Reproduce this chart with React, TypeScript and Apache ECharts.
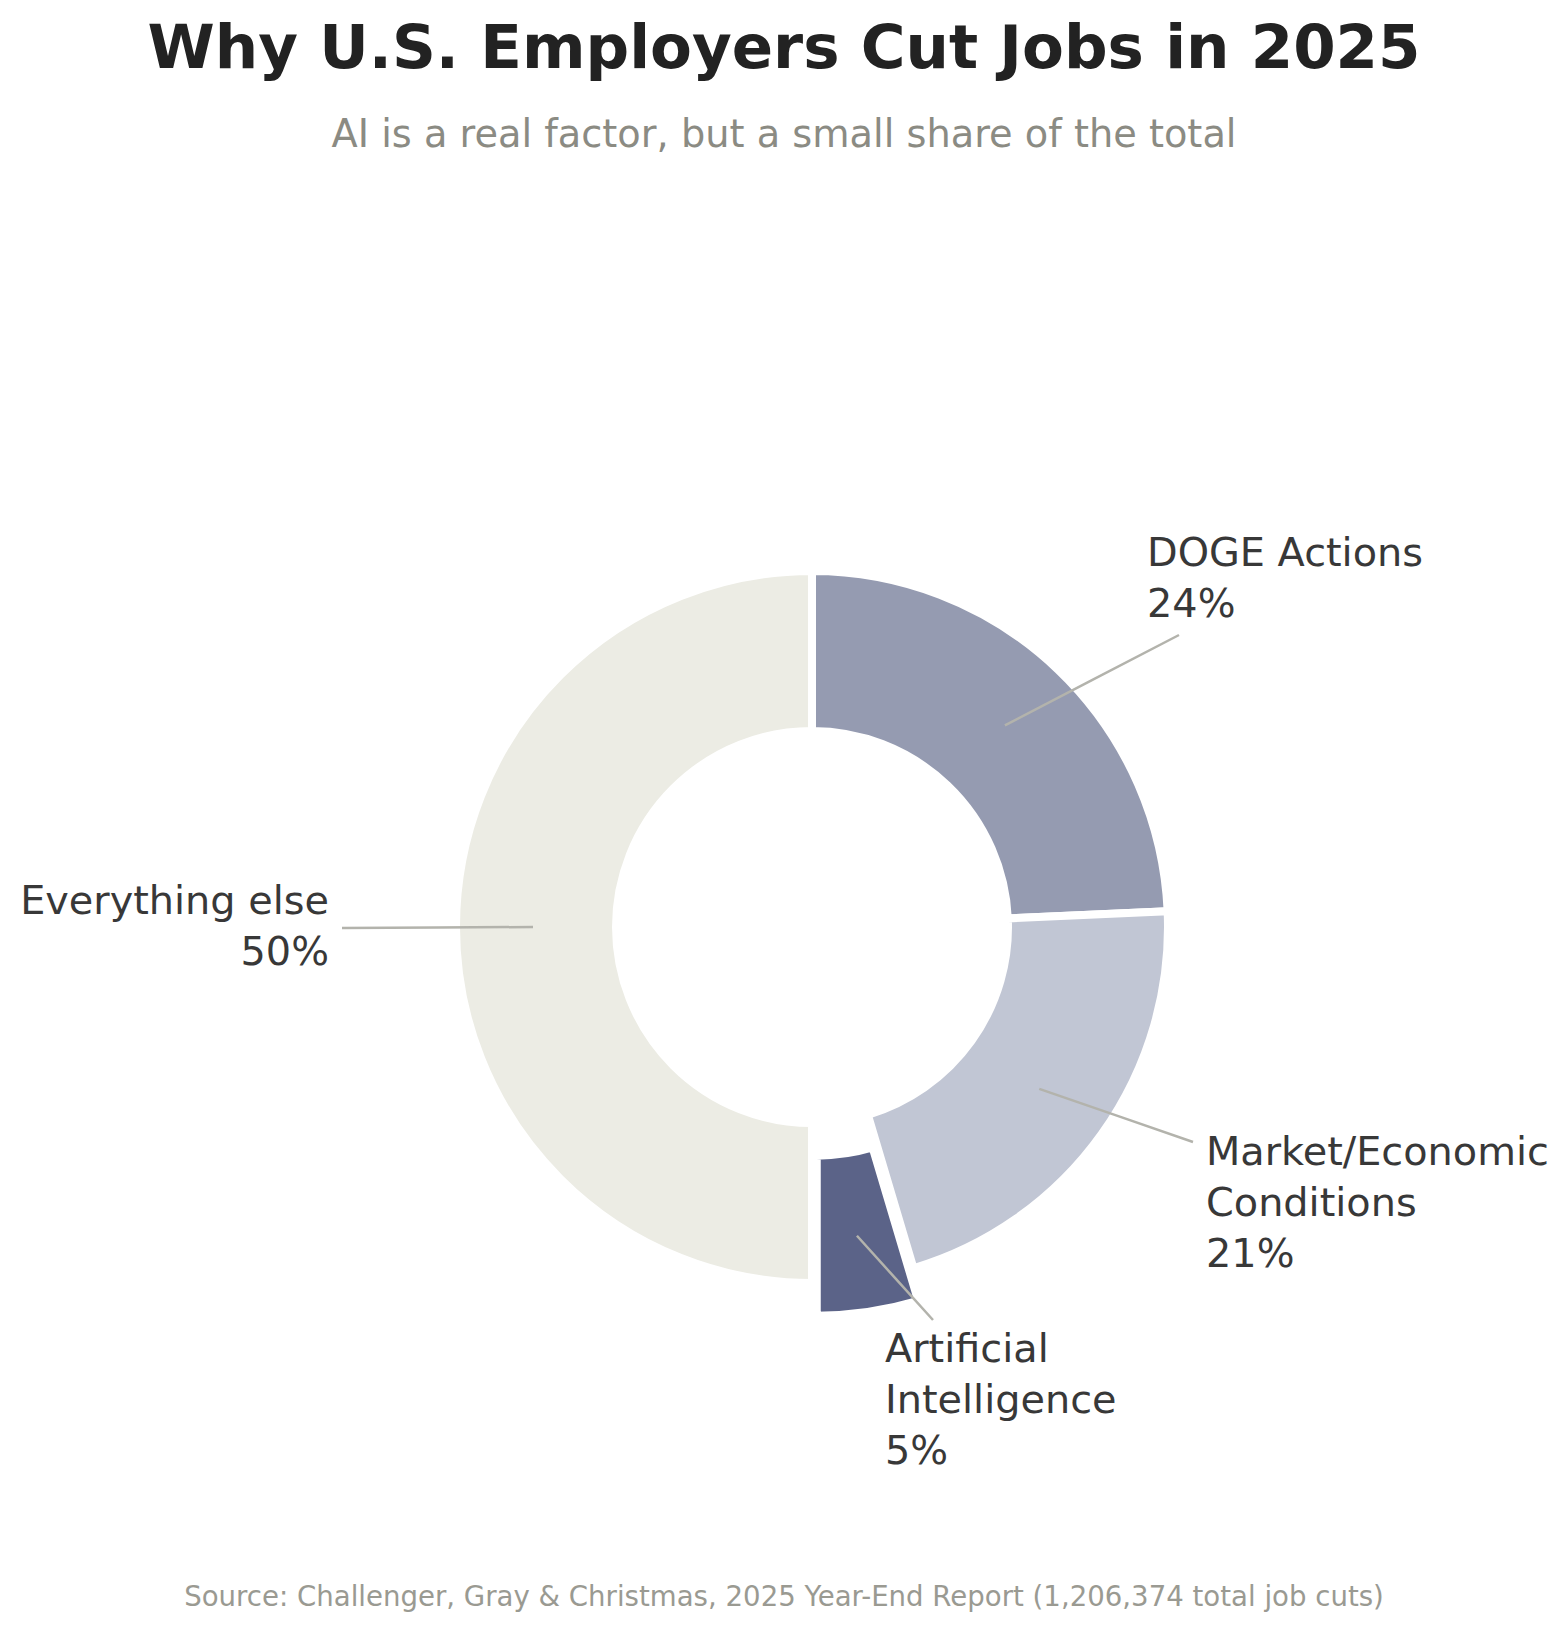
import React, { useEffect, useRef } from 'react';
import * as echarts from 'echarts';

// Shares of 2025 U.S. job cuts by stated reason (percent)
const CATEGORIES = ['DOGE Actions', 'Market/Economic\nConditions', 'Artificial\nIntelligence', 'Everything else'];
const SHARES = [24.3, 21.1, 4.6, 50.0];
const COLORS = ['#959BB1', '#C1C6D4', '#5B6388', '#ECECE4'];
const HIGHLIGHT_INDEX = 2; // AI slice is pulled out

const TITLE = 'Why U.S. Employers Cut Jobs in 2025';
const SUBTITLE = 'AI is a real factor, but a small share of the total';
const SOURCE = 'Source: Challenger, Gray & Christmas, 2025 Year-End Report (1,206,374 total job cuts)';

// geometry
const CENTER: [number, number] = [812, 927];
const INNER_R = 196;
const OUTER_R = 356;
const GAP = 8;
const EXPLODE = 33;
const ANCHOR_R = 279;
const FONT = 'DejaVu Sans';

// where each label sits relative to the donut center, and where its leader line ends
const LABEL_PLACEMENT = [
  { tx: 335, ty: -401, align: 'left', va: 'top', lx: 367, ly: -292 },
  { tx: 394, ty: 198, align: 'left', va: 'top', lx: 381, ly: 215 },
  { tx: 73, ty: 395, align: 'left', va: 'top', lx: 121, ly: 393 },
  { tx: -483, ty: -2, align: 'right', va: 'middle', lx: -470, ly: 1 },
];

const App: React.FC = () => {
  const chartRef = useRef<HTMLDivElement>(null);

  useEffect(() => {
    if (!chartRef.current) return;
    document.body.style.margin = '0';
    const chart = echarts.init(chartRef.current, undefined, { renderer: 'svg' });

    const total = SHARES.reduce((a, b) => a + b, 0);

    const baseData = CATEGORIES.map((name, i) => ({
      name,
      value: SHARES[i],
      selected: i === HIGHLIGHT_INDEX,
      itemStyle: { color: COLORS[i] },
    }));

    // transparent copy on top: carries the labels so leader lines sit over the ring
    const labelData = CATEGORIES.map((name, i) => ({ name, value: SHARES[i] }));

    const option: echarts.EChartsOption = {
      animation: false,
      backgroundColor: '#FFFFFF',
      title: [
        {
          text: TITLE,
          left: 'center',
          top: 16,
          padding: 0,
          textStyle: { fontFamily: FONT, fontSize: 61, fontWeight: 'bold', color: '#222222', lineHeight: 61 },
        },
        {
          text: SUBTITLE,
          left: 'center',
          top: 114,
          padding: 0,
          textStyle: { fontFamily: FONT, fontSize: 38.3, fontWeight: 'normal', color: '#8B8B83', lineHeight: 38 },
        },
        {
          text: SOURCE,
          left: 'center',
          top: 1583,
          padding: 0,
          textStyle: { fontFamily: FONT, fontSize: 27.6, fontWeight: 'normal', color: '#9A9A92', lineHeight: 27 },
        },
      ],
      series: [
        {
          type: 'pie',
          z: 2,
          center: CENTER,
          radius: [INNER_R, OUTER_R],
          startAngle: 90,
          clockwise: true,
          selectedMode: 'single',
          selectedOffset: EXPLODE,
          emphasis: { disabled: true },
          itemStyle: { borderColor: '#FFFFFF', borderWidth: GAP },
          label: { show: false },
          labelLine: { show: false },
          data: baseData,
        },
        {
          type: 'pie',
          z: 3,
          silent: true,
          center: CENTER,
          radius: [INNER_R, OUTER_R],
          startAngle: 90,
          clockwise: true,
          selectedMode: false,
          emphasis: { disabled: true },
          itemStyle: { color: 'rgba(0,0,0,0)', borderWidth: 0 },
          label: {
            show: true,
            position: 'outside',
            fontFamily: FONT,
            fontSize: 39.8,
            lineHeight: 51,
            color: '#383838',
            formatter: (p: any) => `${p.name}\n${Math.round(p.percent)}%`,
          },
          labelLine: {
            show: true,
            lineStyle: { color: '#B3B3AC', width: 2.5 },
          },
          labelLayout: (params: any) => {
            const i = params.dataIndex;
            const p = LABEL_PLACEMENT[i];
            const before = SHARES.slice(0, i).reduce((a, b) => a + b, 0);
            const mid = ((before + SHARES[i] / 2) / total) * Math.PI * 2;
            const r = ANCHOR_R + (i === HIGHLIGHT_INDEX ? EXPLODE : 0);
            const sx = CENTER[0] + Math.sin(mid) * r;
            const sy = CENTER[1] - Math.cos(mid) * r;
            const ex = CENTER[0] + p.lx;
            const ey = CENTER[1] + p.ly;
            return {
              x: CENTER[0] + p.tx,
              y: CENTER[1] + p.ty,
              align: p.align,
              verticalAlign: p.va,
              labelLinePoints: [
                [sx, sy],
                [(sx + ex) / 2, (sy + ey) / 2],
                [ex, ey],
              ],
            };
          },
          data: labelData,
        },
      ],
    };

    chart.setOption(option);

    const handleResize = () => chart.resize();
    window.addEventListener('resize', handleResize);
    return () => {
      window.removeEventListener('resize', handleResize);
      chart.dispose();
    };
  }, []);

  return <div ref={chartRef} style={{ width: 1568, height: 1634 }} />;
};

export default App;
